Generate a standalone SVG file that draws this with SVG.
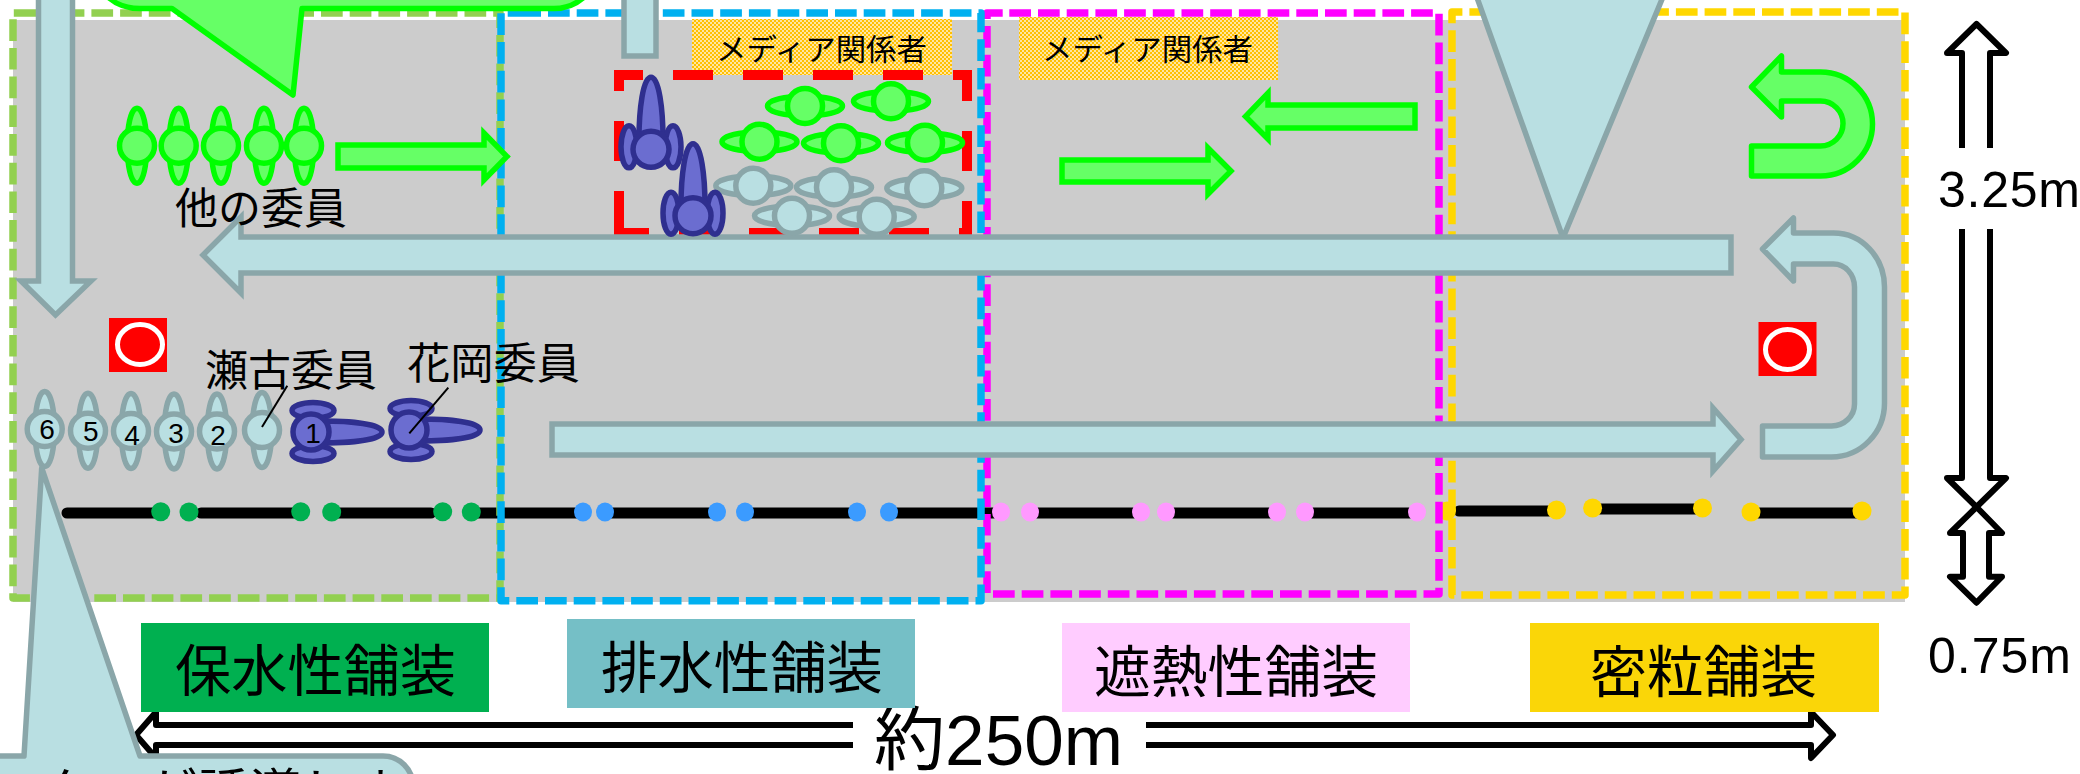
<svg xmlns="http://www.w3.org/2000/svg" width="2080" height="774" viewBox="0 0 2080 774">
  <style>
    text { font-family: "Noto Sans CJK JP", "Liberation Sans", sans-serif; fill: #000; }
    .latin { font-family: "Liberation Sans", "Noto Sans CJK JP", sans-serif; }
    .num { font-family: "Liberation Sans", sans-serif; font-size: 28px; text-anchor: middle; }
    .zone { fill: none; stroke-width: 7.500; stroke-dasharray: 21.7 7; stroke-linejoin: round; }
    .flow { fill: #b9dfe2; stroke: #8aa6a9; stroke-width: 5.5; stroke-linejoin: miter; }
    .flow-r { fill: #b9dfe2; stroke: #8aa6a9; stroke-width: 5.5; stroke-linejoin: round; }
    .walk { fill: #66ff66; stroke: #00ff00; stroke-width: 5.5; }
    .walk-r { fill: #66ff66; stroke: #00ff00; stroke-width: 5.5; stroke-linejoin: round; }
    .dim { fill: #fff; stroke: #000; stroke-width: 6; stroke-linejoin: round; }
    .road { stroke: #000; stroke-width: 11; stroke-linecap: round; fill: none; }
    .lead { stroke: #000; stroke-width: 2; }
    .mark { fill: #ff0000; }
    .ring { fill: none; stroke: #fff; stroke-width: 5; }
    .g { fill: #66ff66; stroke: #00ff00; stroke-width: 5.5; stroke-linejoin: round; }
    .b { fill: #b9dfe2; stroke: #8aa6a9; stroke-width: 5.5; stroke-linejoin: round; }
    .p { fill: #6b6dd0; stroke: #2f2f8f; stroke-width: 5.5; stroke-linejoin: round; }
  </style>
  <defs>
    <pattern id="check" width="4" height="4" patternUnits="userSpaceOnUse">
      <rect width="4" height="4" fill="#ffc000"/>
      <rect width="2" height="2" fill="#ffe6a0"/>
      <rect x="2" y="2" width="2" height="2" fill="#ffe6a0"/>
    </pattern>
    <g id="upright">
      <path d="M-9 -15C-7 -33 -3 -37.500 0 -37.500C3 -37.500 7 -33 9 -15ZM-9 15C-7 33 -3 37.500 0 37.500C3 37.500 7 33 9 15Z"/>
      <circle r="17.500"/>
    </g>
    <g id="sideways">
      <path d="M-15 -9C-33 -7 -37.500 -3 -37.500 0C-37.500 3 -33 7 -15 9ZM15 -9C33 -7 37.500 -3 37.500 0C37.500 3 33 7 15 9Z"/>
      <circle r="17.500"/>
    </g>
    <g id="walk-up">
      <path d="M-12 -10C-12 -40 -8 -72 0 -72C8 -72 12 -40 12 -10Z"/>
      <ellipse cx="-22" cy="-2.500" rx="8" ry="21"/>
      <ellipse cx="22" cy="-2.500" rx="8" ry="21"/>
      <circle r="18"/>
    </g>
    <g id="walk-right">
      <path d="M10 -11C40 -11 71 -8 71 0C71 8 40 11 10 11Z"/>
      <ellipse cx="2" cy="-21.500" rx="21" ry="8"/>
      <ellipse cx="2" cy="21.500" rx="21" ry="8"/>
      <circle r="18"/>
    </g>
  </defs>

  <rect id="roadway" x="13" y="20" width="1892" height="582" fill="#cccccc"/>

  <g id="road-line">
    <g class="road">
      <path d="M67 513H160M201 513H300M332 513H431M471 513H583M605 513H717M745 513H857M889 513H1001M1030 513H1141M1166 513H1277M1305 513H1417"/>
      <path d="M1459 511H1556M1593 509H1702M1751 513H1862"/>
    </g>
    <g fill="#00b050">
      <circle cx="160.700" cy="511.700" r="9.500"/><circle cx="189" cy="512" r="9.500"/>
      <circle cx="300.700" cy="511.700" r="9.500"/><circle cx="331.700" cy="512" r="9.500"/>
      <circle cx="442.700" cy="511.700" r="9.500"/><circle cx="471.300" cy="512" r="9.500"/>
    </g>
    <g fill="#3b9bff">
      <ellipse cx="583" cy="512" rx="9" ry="9.500"/><ellipse cx="605" cy="512" rx="9" ry="9.500"/>
      <ellipse cx="717" cy="512" rx="9" ry="9.500"/><ellipse cx="745" cy="512" rx="9" ry="9.500"/>
      <ellipse cx="857" cy="512" rx="9" ry="9.500"/><ellipse cx="889" cy="512" rx="9" ry="9.500"/>
    </g>
    <g fill="#ff99ff">
      <ellipse cx="1001" cy="512" rx="9" ry="9.500"/><ellipse cx="1030" cy="512" rx="9" ry="9.500"/>
      <ellipse cx="1141" cy="512" rx="9" ry="9.500"/><ellipse cx="1166" cy="512" rx="9" ry="9.500"/>
      <ellipse cx="1277" cy="512" rx="9" ry="9.500"/><ellipse cx="1305" cy="512" rx="9" ry="9.500"/>
      <ellipse cx="1417" cy="512" rx="9" ry="9.500"/>
    </g>
    <g fill="#ffd700">
      <ellipse cx="1447" cy="511" rx="9" ry="9.500"/>
      <ellipse cx="1556.500" cy="510" rx="9.500" ry="9.500"/><ellipse cx="1592.600" cy="508" rx="9.500" ry="9.500"/>
      <ellipse cx="1702.500" cy="508" rx="9.500" ry="9.500"/><ellipse cx="1751" cy="512" rx="9.500" ry="9.500"/>
      <ellipse cx="1862" cy="511" rx="9.500" ry="9.500"/>
    </g>
  </g>

  <g id="zones">
    <path id="zone-hosui" class="zone" stroke="#92d050" d="M34 13H500V598H13V13Z"/>
    <path id="zone-shanetsu" class="zone" stroke="#ff00ff" d="M1009.300 13H1439V594H987V13Z"/>
    <path id="zone-mitsuryu" class="zone" stroke="#ffd700" d="M1475 12H1905V595H1452V12Z"/>
    <path id="zone-haisui" class="zone" stroke="#00b0f0" d="M519.300 13H981V600.700H501V13Z"/>
  </g>

  <g id="media-labels">
    <g id="media-1">
      <rect x="692" y="19" width="260" height="56" fill="url(#check)"/>
      <text x="716" y="60" font-size="30" textLength="211" lengthAdjust="spacingAndGlyphs">メディア関係者</text>
    </g>
    <g id="media-2">
      <rect x="1019" y="17" width="259" height="63" fill="url(#check)"/>
      <text x="1042" y="60" font-size="30" textLength="211" lengthAdjust="spacingAndGlyphs">メディア関係者</text>
    </g>
  </g>

  <path id="press-area" fill="none" stroke="#ff0000" stroke-width="10" stroke-dasharray="40 30" d="M619 231V75H967V233H619V231"/>

  <g id="connectors">
    <path id="flow-entry" class="flow" d="M38.500 -8V281H21L55.500 315L91 281H72.500V-8"/>
    <path id="flow-press" class="flow" d="M624 -8V56H656V-8"/>
    <path id="flow-return-tail" class="flow-r" d="M1475 -8L1563 238L1665 -8Z"/>
    <path id="flow-return" class="flow" d="M1731 237H241V217L203 255L241 293V273H1731Z"/>
    <path id="flow-out" class="flow" d="M552 424H1713V408L1741 439.500L1713 471V455H552Z"/>
    <path id="flow-uturn" class="flow-r" transform="translate(-2.500 0)" d="M1765 249L1796 218V233H1836A51 54 0 0 1 1887 287V403A53 54 0 0 1 1834 457H1765V426H1834A23 22 0 0 0 1857 404V287A21 23 0 0 0 1836 264H1796V281Z"/>
    <path id="walk-committee" class="walk" d="M338 145H484V133L507 156.500L484 180V168H338Z"/>
    <path id="walk-media-right" class="walk" d="M1062 160H1208V148L1231 171L1208 194V182H1062Z"/>
    <path id="walk-media-left" class="walk" d="M1415 105H1268V93L1245.500 116.500L1268 139V128H1415Z"/>
    <path id="walk-uturn" class="walk-r" transform="translate(-2.500 0)" d="M1754 87L1784 56V72H1823A52 52 0 0 1 1823 176H1754V146H1823A22 22 0 0 0 1823 101H1784V117Z"/>
  </g>

  <g id="start-marks">
    <g id="mark-left">
      <rect class="mark" x="109" y="318" width="58" height="54"/>
      <ellipse class="ring" cx="140" cy="344.500" rx="22.500" ry="20"/>
    </g>
    <g id="mark-right">
      <rect class="mark" x="1758.500" y="322" width="58" height="54"/>
      <ellipse class="ring" cx="1787.500" cy="349.500" rx="22" ry="20"/>
    </g>
  </g>

  <g id="committee-others" class="g">
    <use href="#upright" x="137" y="145.700"/>
    <use href="#upright" x="178.700" y="145.700"/>
    <use href="#upright" x="221" y="145.700"/>
    <use href="#upright" x="264" y="145.700"/>
    <use href="#upright" x="304" y="145.700"/>
  </g>

  <g id="press-green" class="g">
    <use href="#sideways" x="805" y="106"/>
    <use href="#sideways" x="891" y="101.300"/>
    <use href="#sideways" x="759.500" y="141.700"/>
    <use href="#sideways" x="841" y="143.300"/>
    <use href="#sideways" x="925" y="142.700"/>
  </g>

  <g id="press-grey" class="b">
    <use href="#sideways" x="753.300" y="185.700"/>
    <use href="#sideways" x="834" y="187.300"/>
    <use href="#sideways" x="924.300" y="188.300"/>
    <use href="#sideways" x="792" y="215.700"/>
    <use href="#sideways" x="876.700" y="216.700"/>
  </g>

  <g id="press-walkers" class="p">
    <use href="#walk-up" x="651" y="149.300"/>
    <use href="#walk-up" x="693" y="215.700"/>
  </g>

  <g id="queue" class="b">
    <g id="queue-6"><use href="#upright" x="44.700" y="429"/></g>
    <g id="queue-5"><use href="#upright" x="88" y="430.700"/></g>
    <g id="queue-4"><use href="#upright" x="131" y="431"/></g>
    <g id="queue-3"><use href="#upright" x="174" y="431.500"/></g>
    <g id="queue-2"><use href="#upright" x="217" y="431.500"/></g>
    <g id="queue-seko"><use href="#upright" x="262" y="430"/></g>
  </g>
  <g id="leaders-walking" class="p">
    <use href="#walk-right" x="311" y="432"/>
    <use href="#walk-right" x="409" y="430"/>
  </g>
  <g id="queue-numbers">
    <text class="num" x="47" y="439">6</text>
    <text class="num" x="90.700" y="441">5</text>
    <text class="num" x="132" y="445">4</text>
    <text class="num" x="176" y="443">3</text>
    <text class="num" x="218" y="445">2</text>
    <text class="num" x="313" y="443">1</text>
  </g>

  <g id="name-labels">
    <text x="175" y="224" font-size="43" textLength="172" lengthAdjust="spacingAndGlyphs">他の委員</text>
    <text x="205" y="386" font-size="43" textLength="172" lengthAdjust="spacingAndGlyphs">瀬古委員</text>
    <text x="407" y="379" font-size="43" textLength="173" lengthAdjust="spacingAndGlyphs">花岡委員</text>
    <line class="lead" x1="287.300" y1="385.700" x2="262" y2="427"/>
    <line class="lead" x1="448.300" y1="387.700" x2="409.300" y2="433.300"/>
  </g>

  <g id="dimension-length">
    <path class="dim" d="M853 725H156V712L136 735L156 758V745H853"/>
    <path class="dim" d="M1146 725H1811V712L1833 735L1811 758V745H1146"/>
    <text x="874" y="765" font-size="70" class="latin" textLength="249" lengthAdjust="spacingAndGlyphs">約250m</text>
  </g>

  <g id="pavement-labels">
    <g id="label-hosui">
      <rect x="141" y="623" width="348" height="89" fill="#00b050"/>
      <text x="175" y="691" font-size="56" textLength="281" lengthAdjust="spacingAndGlyphs">保水性舗装</text>
    </g>
    <g id="label-haisui">
      <rect x="567" y="619" width="348" height="89" fill="#75bfc6"/>
      <text x="601" y="688" font-size="56" textLength="282" lengthAdjust="spacingAndGlyphs">排水性舗装</text>
    </g>
    <g id="label-shanetsu">
      <rect x="1062" y="623" width="348" height="89" fill="#ffccff"/>
      <text x="1094" y="692" font-size="56" textLength="284" lengthAdjust="spacingAndGlyphs">遮熱性舗装</text>
    </g>
    <g id="label-mitsuryu">
      <rect x="1530" y="623" width="349" height="89" fill="#fad608"/>
      <text x="1590" y="692" font-size="56" textLength="227" lengthAdjust="spacingAndGlyphs">密粒舗装</text>
    </g>
  </g>

  <g id="dimension-height">
    <g transform="translate(-3 0)">
      <path class="dim" d="M1965 148V53H1950L1979.500 24L2009 53H1993V148"/>
      <path class="dim" d="M1965 229V478H1950L1979.500 507L2009 478H1993V229"/>
      <path class="dim" d="M1966 576.700V533H1953L1979.500 507L2005 533H1992V576.700H2005L1979.500 602.700L1953 576.700Z"/>
    </g>
    <text class="latin" x="1938" y="207" font-size="50" textLength="142">3.25m</text>
    <text class="latin" x="1928" y="673" font-size="50" textLength="143">0.75m</text>
  </g>

  <g id="callout-top">
    <path class="walk-r" d="M100 -12C110 2 122 8.500 140 8.500H172L293 95L302 8.500H554C570 8.500 582 2 592 -12Z"/>
  </g>

  <g id="callout-bottom">
    <path class="flow-r" d="M-10 756H24L41.700 468L140 756H383A30 30 0 0 1 413 786V810H-10Z"/>
    <text x="-11" y="812" font-size="52">ンターが誘導しま</text>
  </g>
</svg>
